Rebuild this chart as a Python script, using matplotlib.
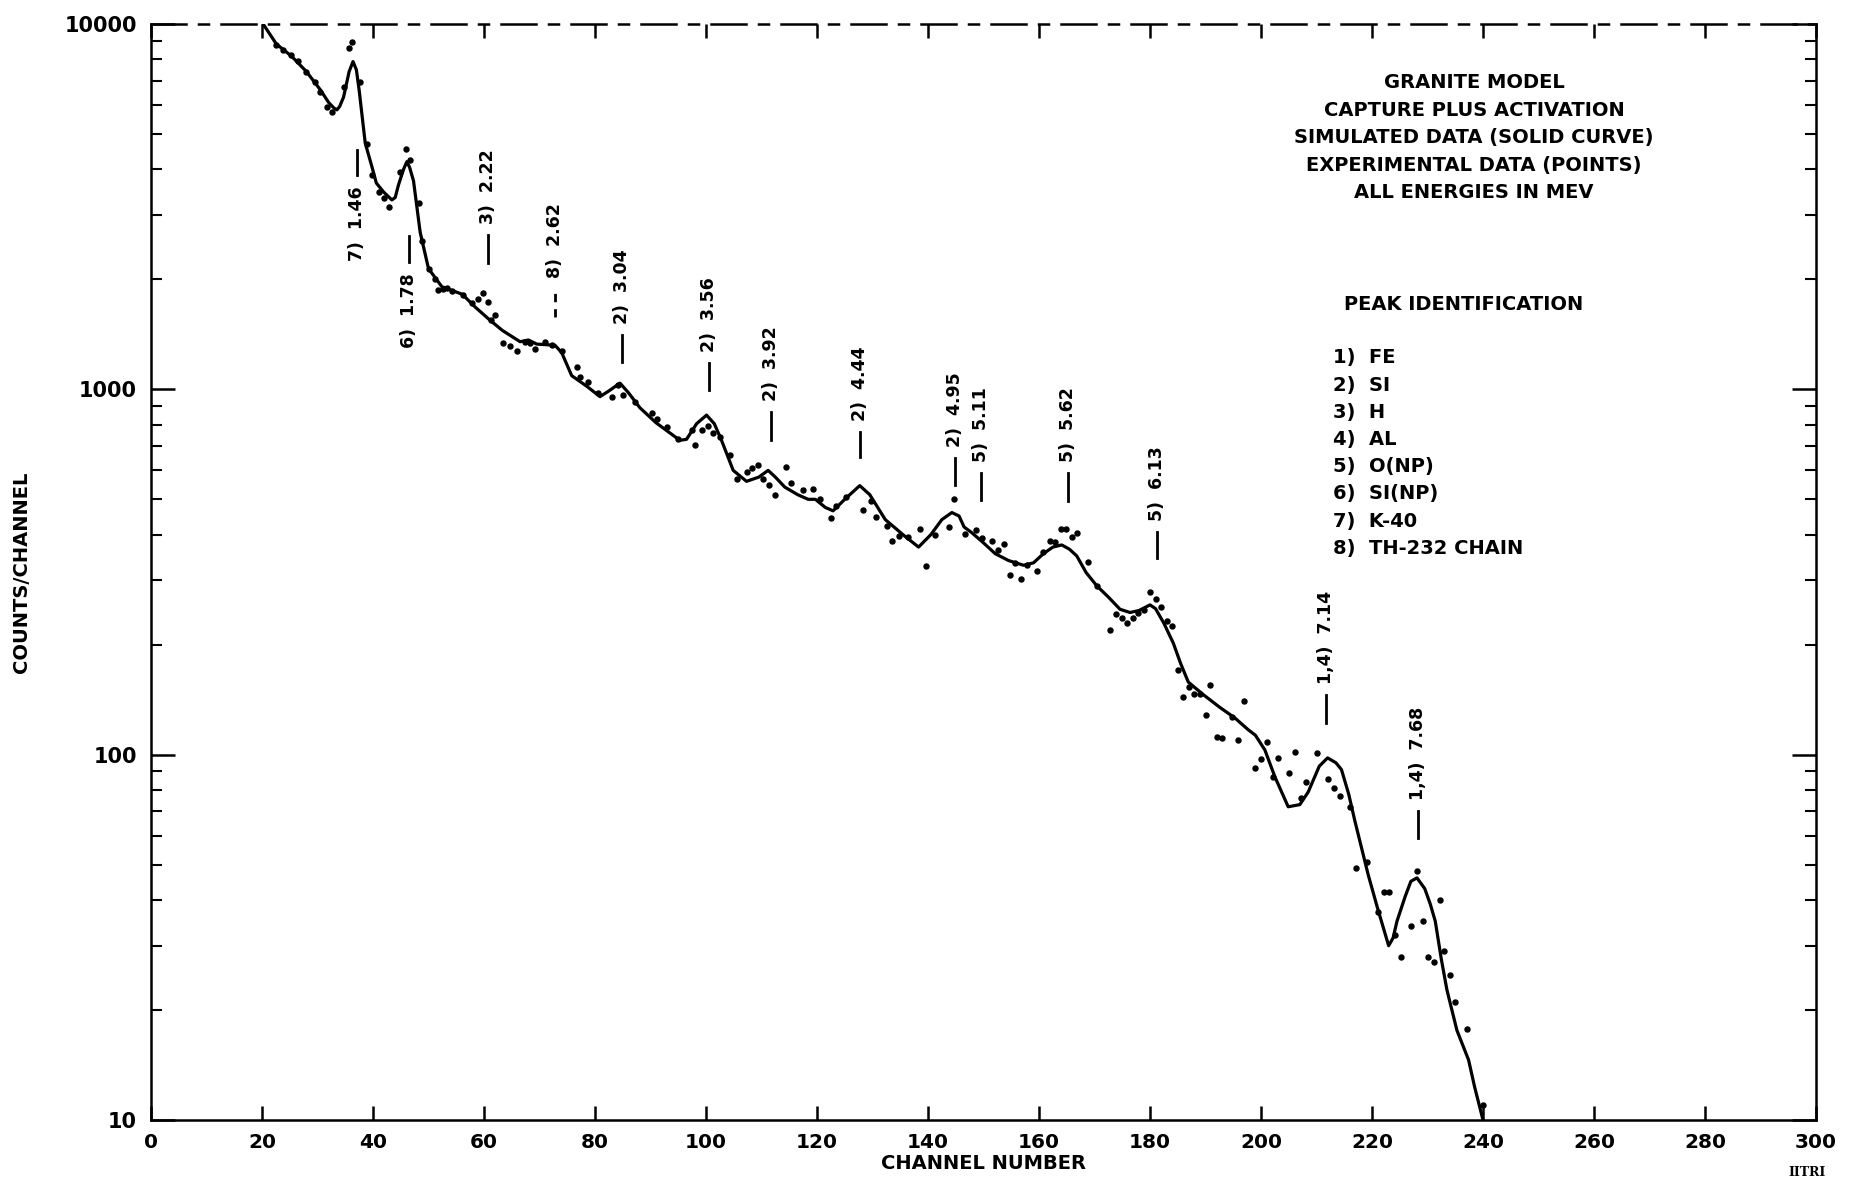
import matplotlib
matplotlib.use("Agg")
import matplotlib.pyplot as plt
from matplotlib.ticker import FixedLocator, FuncFormatter, LogLocator, NullFormatter

# simulated spectrum (solid curve): channel, counts/channel
curve_ch = [20.2, 22.6, 25.3, 28.0, 30.5, 32.0, 33.0, 33.5, 34.0, 34.7, 35.7, 36.4, 37.0, 37.5, 38.6,
            39.8, 40.6, 41.9, 43.4, 44.0, 44.6, 45.5, 46.1, 46.6, 47.3, 48.5, 50.0, 52.4, 56.1, 58.4,
            61.0, 63.3, 66.5, 68.0, 69.5, 72.8, 74.0, 75.8, 78.5, 80.9, 82.5, 84.5,
            86.0, 88.1, 91.0, 95.3, 96.5, 98.3, 100.1, 101.5, 102.8, 104.9, 107.3, 109.5,
            111.2, 112.5, 114.2, 116.5, 118.4, 119.7, 121.5, 122.9, 125.0, 127.7, 129.5, 132.3,
            135.5, 138.3, 140.5, 142.5, 144.3, 145.6, 146.5, 147.9, 150.0, 152.1, 154.5, 157.2,
            159.0, 160.8, 162.5, 164.1, 165.5, 166.8, 168.5, 170.4, 172.5, 174.6, 176.4, 178.0,
            180.0, 181.0, 182.5, 184.2, 185.5, 186.9, 189.6, 192.5, 195.3, 197.7, 199.0, 200.7,
            202.5, 204.9, 207.0, 208.5, 210.5, 212.0, 213.5, 214.5, 215.8, 216.9, 219.3, 221.0,
            222.2, 223.0, 223.8, 224.5, 226.0, 227.0, 228.1, 229.5, 230.5, 231.4, 232.5, 233.5,
            235.3, 237.4, 238.5, 240.0]
curve_counts = [10000, 8810, 8170, 7410, 6610, 6100, 5880, 5820, 5950, 6310, 7410, 7890, 7500, 6600, 4720,
                4070, 3670, 3470, 3300, 3350, 3630, 4000, 4200, 4050, 3720, 2690, 2140, 1910, 1820, 1680,
                1550, 1450, 1350, 1365, 1330, 1320, 1260, 1090, 1020, 955, 990, 1040,
                980, 890, 810, 725, 730, 805, 850, 805, 725, 600, 560, 575,
                600, 575, 540, 515, 500, 500, 475, 465, 500, 545, 515, 440,
                400, 370, 400, 440, 460, 450, 420, 405, 380, 355, 340, 330,
                335, 355, 370, 375, 365, 350, 315, 290, 270, 250, 245, 248,
                257, 251, 229, 202, 178, 158, 146, 135, 126, 117, 113, 103,
                87, 72, 73, 79, 93, 98, 95, 91, 78, 66, 47, 38,
                33, 30, 31.5, 35, 41, 45, 46, 43, 39, 35, 27.5, 22.7,
                17.6, 14.6, 12.3, 10]

# experimental data (points)
exp_ch = [22.6, 23.8, 25.3, 26.5, 28.0, 29.5, 30.5, 31.7, 32.7, 34.7, 35.7, 36.3,
          37.7, 38.9, 39.8, 41.0, 41.9, 42.9, 44.9, 45.9, 46.7, 48.2, 48.8, 50.0,
          51.2, 51.8, 52.6, 53.4, 54.2, 56.3, 57.8, 59.0, 59.9, 60.8, 61.2, 62.0,
          63.5, 64.6, 65.9, 67.4, 68.3, 69.2, 71.0, 72.2, 74.0, 76.7, 77.3, 78.8,
          80.6, 83.0, 84.2, 85.1, 87.2, 90.2, 91.1, 93.0, 95.0, 97.4, 98.0, 99.2,
          100.4, 101.3, 102.5, 104.3, 105.5, 107.3, 108.3, 109.4, 110.3, 111.4, 112.4, 114.5,
          115.4, 117.5, 119.3, 120.5, 122.5, 123.5, 125.3, 128.3, 129.7, 130.6, 132.7, 133.6,
          134.7, 136.4, 138.6, 139.6, 141.3, 143.7, 144.6, 146.7, 148.6, 149.7, 151.6, 152.7,
          153.7, 154.7, 155.7, 156.8, 157.8, 159.7, 160.8, 161.9, 162.8, 163.9, 164.9, 165.9,
          166.9, 168.8, 170.5, 172.8, 173.9, 174.9, 175.9, 176.9, 177.9, 178.9, 180.0, 181.0,
          181.9, 183.0, 183.9, 185.1, 185.9, 187.1, 187.9, 189.0, 190.1, 190.9, 192.0, 192.9,
          194.7, 195.9, 197.0, 199.0, 200.0, 201.0, 202.2, 203.0, 205.0, 206.1, 207.2, 208.1,
          210.0, 212.1, 213.2, 214.2, 216.0, 217.1, 219.1, 221.0, 222.2, 223.1, 224.1, 225.2,
          227.0, 228.1, 229.1, 230.1, 231.2, 232.3, 233.0, 234.1, 235.0, 237.2, 240.0]
exp_counts = [8770, 8510, 8220, 7940, 7410, 6950, 6530, 5930, 5750, 6730, 8570, 8950,
              6950, 4680, 3860, 3470, 3330, 3160, 3940, 4540, 4250, 3240, 2540, 2140,
              2010, 1870, 1880, 1890, 1860, 1810, 1720, 1770, 1840, 1730, 1550, 1600,
              1340, 1310, 1270, 1350, 1340, 1290, 1350, 1320, 1270, 1150, 1080, 1050,
              975, 955, 1030, 965, 925, 860, 830, 790, 730, 775, 705, 775,
              795, 760, 740, 660, 570, 595, 608, 621, 570, 547, 514, 611,
              553, 530, 532, 501, 444, 478, 508, 468, 495, 448, 423, 385,
              396, 394, 415, 328, 399, 421, 500, 402, 412, 391, 385, 363,
              378, 310, 335, 302, 330, 318, 359, 385, 383, 414, 414, 395,
              404, 337, 290, 219, 243, 236, 229, 236, 244, 249, 279, 266,
              254, 232, 225, 171, 144, 153, 147, 147, 128, 155, 112, 111,
              127, 110, 140, 92, 97, 108, 87, 98, 89, 102, 76, 84,
              101, 86, 81, 77, 72, 49, 51, 37, 42, 42, 32, 28,
              34, 48, 35, 28, 27, 40, 29, 25, 21, 17.7, 11]

# peak markers: channel, label, marker bottom, marker top, label below the marker?
peak_ch = [37.2, 46.4, 60.8, 72.8, 84.9, 100.6, 111.7, 127.7, 144.9, 149.5, 165.2, 181.2, 211.8, 228.3]
peak_labels = ["7)  1.46", "6)  1.78", "3)  2.22", "8)  2.62", "2)  3.04", "2)  3.56", "2)  3.92",
               "2)  4.44", "2)  4.95", "5)  5.11", "5)  5.62", "5)  6.13", "1,4)  7.14", "1,4)  7.68"]
peak_lo = [3860, 2230, 2220, 1580, 1190, 995, 726, 653, 547, 498, 494, 345, 122, 59]
peak_hi = [4520, 2630, 2640, 1880, 1410, 1180, 867, 764, 649, 590, 590, 406, 146, 70]
peak_below = [True, True] + [False] * 12

header_lines = ["GRANITE MODEL", "CAPTURE PLUS ACTIVATION", "SIMULATED DATA (SOLID CURVE)",
                "EXPERIMENTAL DATA (POINTS)", "ALL ENERGIES IN MEV"]
key_lines = ["1)  FE", "2)  SI", "3)  H", "4)  AL", "5)  O(NP)", "6)  SI(NP)", "7)  K-40", "8)  TH-232 CHAIN"]

x_ticks = list(range(0, 301, 20))
y_ticks = [10, 100, 1000, 10000]

plt.rcParams["font.family"] = ["DejaVu Sans"]
plt.rcParams["font.weight"] = "bold"
plt.rcParams["axes.labelweight"] = "bold"

W, H = 1852, 1181
fig = plt.figure(figsize=(W / 100, H / 100), dpi=100)
ax = fig.add_axes([151 / W, 1 - 1120 / H, 1665 / W, 1096 / H])

ax.plot(exp_ch, exp_counts, linestyle="none", marker="o", markersize=3.6, color="black")
ax.plot(curve_ch, curve_counts, color="black", linewidth=2.3,
        solid_joinstyle="round", solid_capstyle="round")

ax.set_yscale("log")
ax.set_xlim(0, 300)
ax.set_ylim(10, 10000)

# peak identification marks with rotated labels
for ch, lab, lo, hi, below in zip(peak_ch, peak_labels, peak_lo, peak_hi, peak_below):
    ls = (0, (3, 2.5)) if lab.startswith("8)") else "-"
    ax.plot([ch, ch], [lo, hi], color="black", linewidth=2.0, linestyle=ls)
    if below:
        ax.annotate(lab, (ch, lo), xytext=(0, -8), textcoords="offset points",
                    rotation=90, ha="center", va="top", fontsize=12.5)
    else:
        ax.annotate(lab, (ch, hi), xytext=(0, 8), textcoords="offset points",
                    rotation=90, ha="center", va="bottom", fontsize=12.5)

ax.xaxis.set_major_locator(FixedLocator(x_ticks))
ax.yaxis.set_major_locator(FixedLocator(y_ticks))
ax.yaxis.set_minor_locator(LogLocator(base=10, subs=range(2, 10)))
ax.yaxis.set_major_formatter(FuncFormatter(lambda v, p: f"{int(v)}"))
ax.yaxis.set_minor_formatter(NullFormatter())

ax.tick_params(which="both", direction="in", top=True, right=True, color="black")
ax.tick_params(axis="x", which="major", length=10, width=1.8, labelsize=14.5, pad=9)
ax.tick_params(axis="y", which="major", length=17, width=1.8, labelsize=15, pad=10)
ax.tick_params(axis="y", which="minor", length=8, width=1.5)

for side in ["left", "right", "bottom", "top"]:
    ax.spines[side].set_linewidth(1.8)
ax.spines["top"].set_linestyle((0, (14, 5, 4, 5)))

ax.set_xlabel("CHANNEL NUMBER", fontsize=14, labelpad=2)
ax.set_ylabel("COUNTS/CHANNEL", fontsize=14, labelpad=24)

# description block, upper right
for i, line in enumerate(header_lines):
    fig.text(1474 / W, 1 - (83 + 27.5 * i) / H, line, ha="center", va="center", fontsize=14)
fig.text(1464 / W, 1 - 304 / H, "PEAK IDENTIFICATION", ha="center", va="center", fontsize=14)
for i, line in enumerate(key_lines):
    fig.text(1333 / W, 1 - (358 + 27.2 * i) / H, line, ha="left", va="center", fontsize=14)

fig.text(1807 / W, 1 - 1172 / H, "IITRI", ha="center", va="center", fontsize=9,
         family="DejaVu Serif", weight="bold")

fig.savefig("out.png", dpi=100)
